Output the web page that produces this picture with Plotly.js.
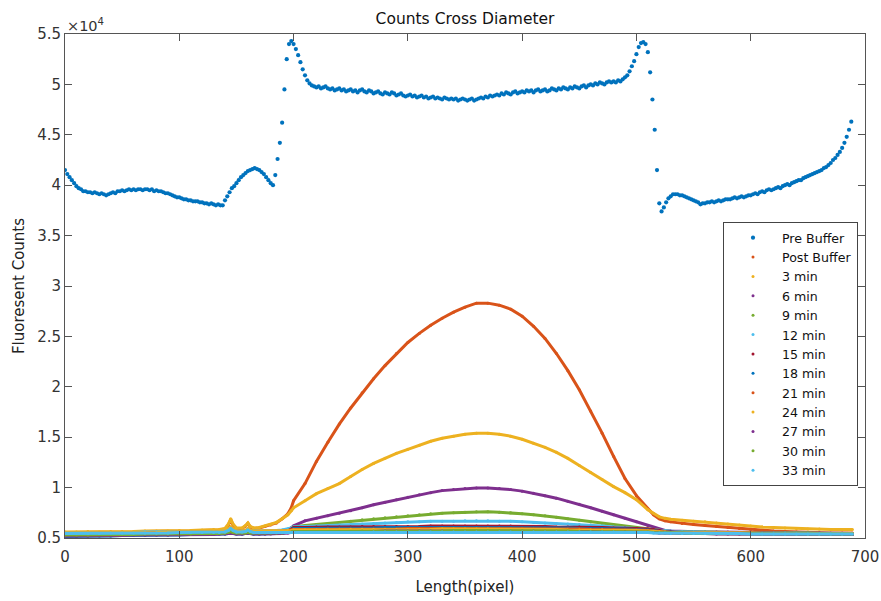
<!DOCTYPE html>
<html><head><meta charset="utf-8">
<script src="https://cdn.plot.ly/plotly-3.0.1.min.js"></script>
<style>html,body{margin:0;padding:0;background:#fff}#chart{width:881px;height:601px}</style>
</head><body><div id="chart"></div>
<script>
// Fluorescent counts, in units of 10^4
const seriesNames = ['Pre Buffer','Post Buffer','3 min','6 min','9 min','12 min','15 min','18 min','21 min','24 min','27 min','30 min','33 min'];
const xTickVals = [0,100,200,300,400,500,600,700];
const yTickVals = [0.5,1,1.5,2,2.5,3,3.5,4,4.5,5,5.5];

// Pre Buffer sampled every 2 pixels from 0 to 688
const preBufferStep = 2;
const preBuffer = [
4.15,4.11,4.08,4.05,4.02,3.99,3.97,3.96,3.94,3.94,
3.93,3.93,3.92,3.93,3.92,3.91,3.92,3.91,3.90,3.91,
3.92,3.93,3.92,3.94,3.94,3.95,3.94,3.95,3.96,3.95,
3.96,3.95,3.96,3.96,3.95,3.96,3.96,3.95,3.96,3.94,
3.95,3.94,3.94,3.93,3.92,3.92,3.91,3.90,3.89,3.88,
3.88,3.87,3.86,3.86,3.85,3.85,3.84,3.84,3.84,3.83,
3.83,3.82,3.82,3.81,3.82,3.81,3.80,3.81,3.80,3.80,
3.85,3.89,3.93,3.97,3.99,4.02,4.05,4.08,4.10,4.12,
4.14,4.15,4.16,4.17,4.16,4.15,4.13,4.11,4.08,4.05,
4.02,4.00,4.10,4.26,4.42,4.62,4.95,5.25,5.40,5.43,
5.40,5.35,5.29,5.22,5.15,5.09,5.04,5.01,4.99,4.98,
4.97,4.98,4.96,4.97,4.98,4.96,4.95,4.96,4.94,4.95,
4.96,4.94,4.95,4.93,4.94,4.95,4.93,4.94,4.92,4.94,
4.95,4.93,4.92,4.94,4.93,4.91,4.92,4.93,4.91,4.90,
4.92,4.91,4.90,4.92,4.91,4.89,4.90,4.91,4.89,4.88,
4.89,4.90,4.88,4.89,4.87,4.88,4.89,4.87,4.88,4.86,
4.87,4.88,4.86,4.87,4.86,4.85,4.87,4.86,4.85,4.86,
4.85,4.86,4.84,4.85,4.86,4.85,4.84,4.85,4.86,4.84,
4.85,4.86,4.87,4.86,4.88,4.87,4.89,4.88,4.89,4.90,
4.89,4.91,4.90,4.92,4.91,4.90,4.92,4.93,4.91,4.92,
4.93,4.92,4.94,4.93,4.94,4.92,4.94,4.95,4.93,4.94,
4.95,4.93,4.94,4.96,4.95,4.94,4.96,4.95,4.97,4.96,
4.95,4.97,4.96,4.98,4.97,4.96,4.98,4.99,4.97,4.99,
5.00,4.99,5.01,5.00,5.02,5.01,5.00,5.02,5.03,5.02,
5.03,5.02,5.04,5.03,5.05,5.07,5.09,5.13,5.18,5.23,
5.30,5.37,5.41,5.42,5.40,5.32,5.12,4.85,4.55,4.15,
3.82,3.74,3.78,3.83,3.87,3.89,3.91,3.91,3.91,3.90,
3.90,3.89,3.88,3.87,3.86,3.85,3.84,3.83,3.81,3.82,
3.82,3.83,3.83,3.84,3.83,3.84,3.85,3.84,3.85,3.86,
3.86,3.86,3.87,3.88,3.87,3.88,3.89,3.88,3.89,3.90,
3.90,3.91,3.92,3.91,3.93,3.94,3.93,3.95,3.96,3.95,
3.96,3.97,3.98,3.97,3.99,4.00,4.01,4.00,4.02,4.03,
4.04,4.05,4.05,4.07,4.08,4.09,4.10,4.11,4.12,4.13,
4.14,4.15,4.17,4.18,4.20,4.22,4.25,4.27,4.30,4.33,
4.37,4.42,4.48,4.55,4.63
];

// Pixel positions used for the later measurements
const lowPixels = [0,10,20,30,40,50,60,70,80,90,100,110,120,130,
135,140,143,145,147,150,155,158,160,162,165,170,175,180,185,190,195,198,
200,210,220,230,240,250,260,270,280,290,300,310,320,330,340,350,360,370,380,390,400,410,420,430,440,450,460,470,480,490,500,510,
515,520,525,
530,540,550,560,570,580,590,600,610,620,630,640,650,660,670,680,689];

const postBuffer = [
0.555,0.555,0.56,0.555,0.56,0.56,0.56,0.565,0.565,0.565,0.57,0.57,0.575,0.58,
0.58,0.59,0.63,0.68,0.63,0.59,0.595,0.62,0.645,0.61,0.595,0.60,0.615,0.63,0.65,0.69,0.74,0.80,
0.87,1.04,1.26,1.45,1.63,1.79,1.94,2.08,2.21,2.33,2.44,2.53,2.61,2.68,2.74,2.79,2.83,2.83,2.81,2.77,2.70,2.60,2.48,2.33,2.16,1.97,1.76,1.54,1.31,1.09,0.92,0.79,
0.73,0.69,0.67,
0.66,0.645,0.635,0.625,0.615,0.605,0.595,0.585,0.575,0.57,0.565,0.56,0.555,0.555,0.55,0.55,0.55];
const min3 = [
0.56,0.56,0.565,0.56,0.565,0.565,0.565,0.57,0.57,0.57,0.575,0.575,0.58,0.585,
0.585,0.595,0.64,0.69,0.64,0.60,0.60,0.625,0.65,0.615,0.60,0.605,0.62,0.635,0.655,0.69,0.73,0.77,
0.80,0.87,0.94,0.99,1.04,1.11,1.18,1.24,1.29,1.34,1.38,1.42,1.46,1.49,1.51,1.53,1.54,1.54,1.53,1.51,1.48,1.44,1.40,1.35,1.29,1.22,1.15,1.08,1.01,0.95,0.88,0.78,
0.745,0.71,0.695,
0.685,0.675,0.665,0.66,0.65,0.64,0.63,0.62,0.61,0.605,0.60,0.595,0.59,0.59,0.585,0.585,0.585];
const min6 = [
0.535,0.535,0.54,0.54,0.54,0.545,0.545,0.545,0.55,0.55,0.55,0.555,0.555,0.555,
0.555,0.56,0.57,0.58,0.57,0.56,0.56,0.565,0.57,0.565,0.56,0.56,0.56,0.565,0.565,0.57,0.58,0.60,
0.62,0.67,0.695,0.72,0.745,0.77,0.80,0.83,0.855,0.88,0.905,0.93,0.95,0.97,0.98,0.99,0.995,0.995,0.99,0.98,0.965,0.945,0.92,0.895,0.865,0.835,0.80,0.765,0.73,0.695,0.66,0.625,
0.605,0.585,0.575,
0.57,0.565,0.565,0.56,0.56,0.56,0.555,0.555,0.555,0.55,0.55,0.55,0.55,0.55,0.545,0.545,0.545];
const min9 = [
0.545,0.545,0.545,0.55,0.55,0.55,0.55,0.555,0.555,0.555,0.555,0.56,0.56,0.56,
0.56,0.565,0.575,0.585,0.575,0.565,0.565,0.57,0.575,0.57,0.565,0.565,0.565,0.57,0.57,0.575,0.585,0.60,
0.61,0.625,0.635,0.645,0.655,0.665,0.68,0.69,0.70,0.71,0.72,0.73,0.74,0.745,0.75,0.755,0.76,0.76,0.755,0.75,0.74,0.73,0.72,0.705,0.69,0.675,0.66,0.645,0.63,0.615,0.60,0.59,
0.58,0.575,0.57,
0.565,0.56,0.56,0.56,0.555,0.555,0.555,0.555,0.55,0.55,0.55,0.55,0.55,0.545,0.545,0.545,0.545];
const min12 = [
0.55,0.55,0.55,0.555,0.555,0.555,0.555,0.56,0.56,0.56,0.56,0.56,0.565,0.565,
0.565,0.57,0.585,0.60,0.585,0.57,0.57,0.575,0.59,0.575,0.57,0.57,0.57,0.57,0.575,0.58,0.59,0.60,
0.61,0.615,0.62,0.625,0.63,0.635,0.64,0.645,0.65,0.655,0.66,0.66,0.665,0.665,0.665,0.67,0.67,0.67,0.665,0.665,0.66,0.655,0.65,0.645,0.64,0.635,0.63,0.62,0.61,0.605,0.595,0.585,
0.58,0.575,0.57,
0.565,0.56,0.56,0.555,0.555,0.555,0.55,0.55,0.55,0.55,0.55,0.545,0.545,0.545,0.545,0.545,0.545];
const min15 = [
0.53,0.53,0.535,0.535,0.535,0.54,0.54,0.54,0.54,0.545,0.545,0.545,0.545,0.55,
0.55,0.55,0.555,0.56,0.555,0.55,0.55,0.555,0.56,0.555,0.55,0.55,0.55,0.55,0.555,0.56,0.57,0.59,
0.605,0.605,0.61,0.61,0.61,0.61,0.615,0.615,0.615,0.615,0.615,0.615,0.62,0.62,0.62,0.62,0.62,0.62,0.62,0.62,0.615,0.615,0.615,0.61,0.61,0.61,0.605,0.605,0.60,0.60,0.595,0.59,
0.585,0.575,0.565,
0.56,0.555,0.555,0.55,0.55,0.55,0.55,0.545,0.545,0.545,0.545,0.545,0.54,0.54,0.54,0.54,0.54];
const min18 = [
0.515,0.515,0.52,0.52,0.52,0.525,0.525,0.525,0.53,0.53,0.53,0.535,0.535,0.535,
0.54,0.54,0.545,0.55,0.545,0.54,0.54,0.545,0.55,0.545,0.54,0.54,0.54,0.545,0.545,0.55,0.56,0.58,
0.595,0.595,0.595,0.60,0.60,0.60,0.60,0.60,0.605,0.605,0.605,0.605,0.605,0.605,0.605,0.605,0.605,0.605,0.605,0.605,0.60,0.60,0.60,0.60,0.60,0.595,0.595,0.595,0.59,0.59,0.585,0.58,
0.575,0.565,0.56,
0.555,0.55,0.55,0.545,0.545,0.545,0.545,0.54,0.54,0.54,0.54,0.54,0.535,0.535,0.535,0.535,0.535];
const min21 = [
0.545,0.545,0.545,0.55,0.55,0.55,0.55,0.55,0.555,0.555,0.555,0.555,0.56,0.56,
0.56,0.565,0.58,0.60,0.58,0.565,0.565,0.57,0.585,0.57,0.565,0.565,0.565,0.565,0.565,0.57,0.575,0.58,
0.585,0.585,0.585,0.59,0.59,0.59,0.59,0.59,0.59,0.59,0.595,0.595,0.595,0.595,0.595,0.595,0.595,0.595,0.595,0.595,0.595,0.59,0.59,0.59,0.59,0.59,0.585,0.585,0.585,0.58,0.58,0.575,
0.57,0.565,0.56,
0.555,0.555,0.55,0.55,0.55,0.55,0.545,0.545,0.545,0.545,0.545,0.545,0.54,0.54,0.54,0.54,0.54];
const min24 = [
0.55,0.55,0.55,0.55,0.555,0.555,0.555,0.555,0.555,0.56,0.56,0.56,0.56,0.565,
0.565,0.57,0.59,0.61,0.59,0.57,0.57,0.575,0.595,0.575,0.57,0.57,0.57,0.57,0.57,0.57,0.575,0.575,
0.58,0.58,0.58,0.58,0.58,0.585,0.585,0.585,0.585,0.585,0.585,0.585,0.585,0.59,0.59,0.59,0.59,0.59,0.585,0.585,0.585,0.585,0.585,0.585,0.58,0.58,0.58,0.58,0.575,0.575,0.575,0.57,
0.565,0.56,0.56,
0.555,0.555,0.555,0.55,0.55,0.55,0.55,0.55,0.545,0.545,0.545,0.545,0.545,0.545,0.545,0.545,0.545];
const min27 = [
0.52,0.52,0.52,0.525,0.525,0.525,0.53,0.53,0.53,0.53,0.535,0.535,0.535,0.535,
0.54,0.54,0.545,0.55,0.545,0.54,0.54,0.545,0.55,0.545,0.54,0.54,0.54,0.54,0.545,0.545,0.55,0.555,
0.56,0.56,0.56,0.565,0.565,0.565,0.565,0.565,0.57,0.57,0.57,0.57,0.57,0.57,0.57,0.57,0.57,0.57,0.57,0.57,0.57,0.57,0.565,0.565,0.565,0.565,0.565,0.56,0.56,0.56,0.56,0.555,
0.555,0.55,0.55,
0.545,0.545,0.545,0.545,0.54,0.54,0.54,0.54,0.54,0.54,0.535,0.535,0.535,0.535,0.535,0.535,0.535];
const min30 = [
0.53,0.53,0.53,0.535,0.535,0.535,0.535,0.54,0.54,0.54,0.54,0.54,0.545,0.545,
0.545,0.55,0.555,0.565,0.555,0.55,0.55,0.55,0.56,0.55,0.55,0.55,0.55,0.55,0.55,0.55,0.555,0.56,
0.565,0.565,0.565,0.565,0.565,0.565,0.57,0.57,0.57,0.57,0.57,0.57,0.57,0.57,0.575,0.575,0.575,0.575,0.57,0.57,0.57,0.57,0.57,0.57,0.57,0.565,0.565,0.565,0.565,0.56,0.56,0.56,
0.555,0.555,0.55,
0.55,0.55,0.545,0.545,0.545,0.545,0.545,0.54,0.54,0.54,0.54,0.54,0.54,0.54,0.54,0.54,0.54];
const min33 = [
0.545,0.545,0.545,0.545,0.55,0.55,0.55,0.55,0.55,0.55,0.555,0.555,0.555,0.555,
0.555,0.56,0.575,0.595,0.575,0.56,0.56,0.565,0.58,0.565,0.555,0.555,0.555,0.555,0.555,0.555,0.555,0.555,
0.555,0.555,0.555,0.555,0.555,0.555,0.555,0.56,0.56,0.56,0.56,0.56,0.56,0.56,0.56,0.56,0.56,0.56,0.56,0.56,0.56,0.56,0.56,0.56,0.56,0.56,0.56,0.56,0.56,0.555,0.555,0.555,
0.55,0.55,0.55,
0.545,0.545,0.545,0.545,0.545,0.545,0.545,0.54,0.54,0.54,0.54,0.54,0.54,0.54,0.54,0.54,0.54];

const laterSeries = [postBuffer,min3,min6,min9,min12,min15,min18,min21,min24,min27,min30,min33];

// MATLAB default colour order
const palette = ['#0072BD','#D95319','#EDB120','#7E2F8E','#77AC30','#4DBEEE','#A2142F'];

const prePixels = preBuffer.map((_, i) => i * preBufferStep);

const traces = [{
  type:'scatter', mode:'markers', name:seriesNames[0],
  x:prePixels, y:preBuffer,
  marker:{color:palette[0], size:4.2}
}];
laterSeries.forEach((vals, k) => {
  const c = palette[(k + 1) % palette.length];
  traces.push({type:'scatter', mode:'lines', x:lowPixels, y:vals, showlegend:false,
    line:{color:c, width:3}, name:seriesNames[k+1]});
  traces.push({type:'scatter', mode:'markers', x:lowPixels, y:vals, name:seriesNames[k+1],
    marker:{color:c, size:3}});
});

const axisCol = '#555555';
const layout = {
  width:881, height:601,
  margin:{l:65, r:16, t:34, b:63},
  paper_bgcolor:'#ffffff', plot_bgcolor:'#ffffff',
  font:{family:'"DejaVu Sans", sans-serif', size:15, color:'#333333'},
  showlegend:true,
  title:{text:'Counts Cross Diameter', font:{size:15.5, color:'#111111'},
    x:0.5, xref:'paper', xanchor:'center', y:1-19/601, yref:'container', yanchor:'middle'},
  xaxis:{range:[0,700], tickmode:'array', tickvals:xTickVals, ticks:'inside', ticklen:7,
    tickcolor:axisCol, showline:true, linecolor:axisCol, linewidth:1, mirror:'ticks',
    showgrid:false, zeroline:false, tickfont:{size:15, color:'#333333'}, ticklabelstandoff:5,
    title:{text:'Length(pixel)', font:{size:15, color:'#222222'}, standoff:16}},
  yaxis:{range:[0.5,5.5], tickmode:'array', tickvals:yTickVals, ticks:'inside', ticklen:7,
    tickcolor:axisCol, showline:true, linecolor:axisCol, linewidth:1, mirror:'ticks',
    showgrid:false, zeroline:false, tickfont:{size:15, color:'#333333'},
    title:{text:'Fluoresent Counts', font:{size:15, color:'#222222'}, standoff:8}},
  legend:{x:(723-65)/800, y:(538-222)/504, xanchor:'left', yanchor:'top',
    bgcolor:'#ffffff', bordercolor:'#444444', borderwidth:1, itemwidth:48,
    font:{size:12.6, color:'#111111'}},
  annotations:[{text:'×10<sup>4</sup>', xref:'paper', yref:'paper', x:0, y:1, yshift:-2,
    xanchor:'left', yanchor:'bottom', showarrow:false, font:{size:14.5, color:'#333333'}}]
};

Plotly.newPlot('chart', traces, layout, {displayModeBar:false, staticPlot:true});
</script>
</body></html>
